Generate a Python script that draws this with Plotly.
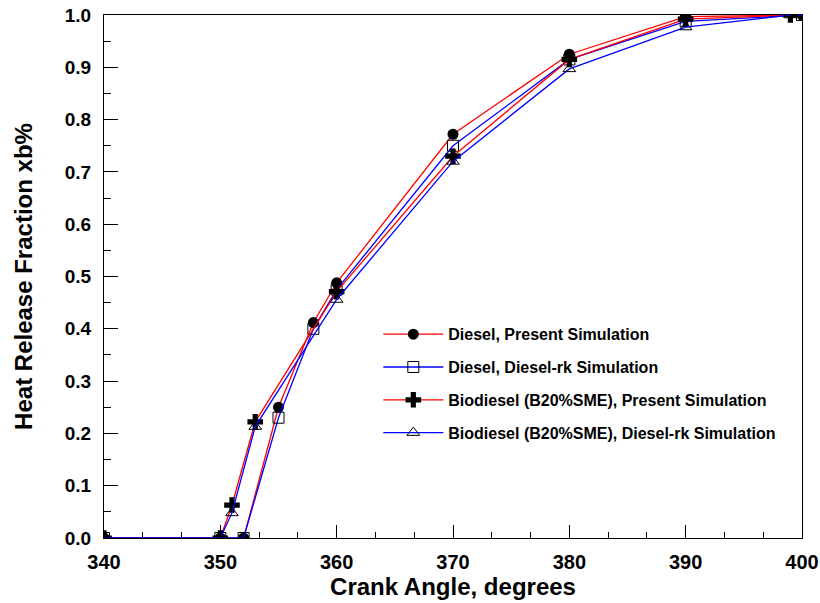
import plotly.graph_objects as go

# Data
diesel_x = [340, 350, 352, 355, 358, 360, 370, 380, 390, 400]
diesel_present = [0.0, 0.0, 0.0, 0.25, 0.412, 0.488, 0.772, 0.925, 0.997, 1.0]
diesel_rk = [0.0, 0.0, 0.0, 0.23, 0.40, 0.475, 0.75, 0.915, 0.988, 1.0]

bio_x = [340, 350, 351, 353, 360, 370, 380, 390, 399]
bio_present = [0.0, 0.0, 0.063, 0.222, 0.471, 0.73, 0.915, 0.992, 1.0]
bio_rk = [0.0, 0.0, 0.048, 0.213, 0.456, 0.72, 0.897, 0.977, 1.0]

names = [
    "Diesel, Present Simulation",
    "Diesel, Diesel-rk Simulation",
    "Biodiesel (B20%SME), Present Simulation",
    "Biodiesel (B20%SME), Diesel-rk Simulation",
]

FONT = "Liberation Sans, Arial, sans-serif"

fig = go.Figure()
fig.add_trace(go.Scatter(
    x=diesel_x, y=diesel_present, name=names[0], mode="lines+markers",
    line=dict(color="#ff0000", width=1.3),
    marker=dict(symbol="circle", size=11, color="black"),
    legendgroup="a"))
fig.add_trace(go.Scatter(
    x=diesel_x, y=diesel_rk, name=names[1], mode="lines+markers",
    line=dict(color="#0000ff", width=1.3),
    marker=dict(symbol="square-open", size=11, color="black", line=dict(width=1)),
    legendgroup="b"))
fig.add_trace(go.Scatter(
    x=bio_x, y=bio_present, name=names[2], mode="lines+markers",
    line=dict(color="#ff0000", width=1.3),
    marker=dict(symbol="cross", size=13, color="black"),
    legendgroup="c"))
fig.add_trace(go.Scatter(
    x=bio_x, y=bio_rk, name=names[3], mode="lines+markers",
    line=dict(color="#0000ff", width=1.3),
    marker=dict(symbol="triangle-up-open", size=11, color="black", line=dict(width=1)),
    legendgroup="d"))

fig.update_layout(
    width=820, height=603,
    margin=dict(l=104, r=18, t=15, b=65),
    paper_bgcolor="white", plot_bgcolor="white",
    font=dict(family=FONT, color="black", weight="bold"),
    showlegend=True,
    legend=dict(
        x=0.393, y=0.422, xanchor="left", yanchor="top",
        font=dict(size=16, family=FONT, weight="bold"),
        bgcolor="rgba(0,0,0,0)", tracegroupgap=9, itemwidth=60,
    ),
)
fig.update_xaxes(
    range=[340, 400], tickmode="array", tickvals=[340, 350, 360, 370, 380, 390, 400],
    ticks="inside", ticklen=13, tickwidth=1, tickcolor="black",
    minor=dict(dtick=10/3, tick0=340, ticks="inside", ticklen=6, tickcolor="black", tickwidth=1),
    showline=True, linecolor="black", linewidth=1, mirror=True,
    showgrid=False, zeroline=False, automargin=False,
    tickfont=dict(size=20, family=FONT, weight="bold"),
    ticklabelstandoff=6,
    title=dict(text="Crank Angle, degrees", font=dict(size=24, family=FONT, weight="bold"), standoff=0),
)
fig.update_yaxes(
    range=[0, 1.0], tickmode="array", tickvals=[0, 0.1, 0.2, 0.3, 0.4, 0.5, 0.6, 0.7, 0.8, 0.9, 1.0],
    ticktext=["0.0", "0.1", "0.2", "0.3", "0.4", "0.5", "0.6", "0.7", "0.8", "0.9", "1.0"],
    ticks="inside", ticklen=14, tickwidth=1, tickcolor="black",
    minor=dict(dtick=0.05, tick0=0, ticks="inside", ticklen=7, tickcolor="black", tickwidth=1),
    showline=True, linecolor="black", linewidth=1, mirror=True,
    showgrid=False, zeroline=False, automargin=False,
    tickfont=dict(size=19, family=FONT, weight="bold"),
    ticklabelstandoff=8,
    title=dict(text="Heat Release Fraction xb%", font=dict(size=24, family=FONT, weight="bold"), standoff=25),
)

fig.write_html("out.html", config={"displayModeBar": False},
               post_script="document.body.style.margin='0';")
